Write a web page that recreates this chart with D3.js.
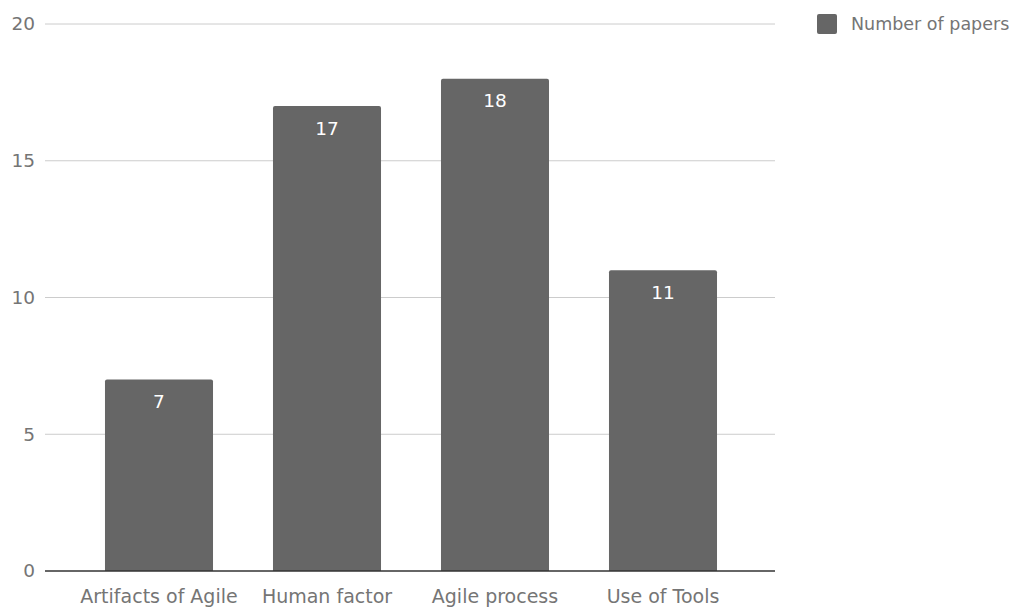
<!DOCTYPE html>
<html>
<head>
<meta charset="utf-8">
<script src="https://cdn.jsdelivr.net/npm/d3@7"></script>
<style>
  body { margin: 0; background: #fff; }
  svg text { font-family: "DejaVu Sans", Verdana, sans-serif; }
</style>
</head>
<body>
<div id="chart"></div>
<script>
const categories = ["Artifacts of Agile", "Human factor", "Agile process", "Use of Tools"]
const paperCounts = [7, 17, 18, 11]
const yTicks = [0, 5, 10, 15, 20]
const seriesName = "Number of papers"

const dimensions = {
    width: 1013,
    height: 608,
    margin: { top: 24, right: 238, bottom: 37, left: 45 },
}
dimensions.boundedWidth = dimensions.width - dimensions.margin.left - dimensions.margin.right
dimensions.boundedHeight = dimensions.height - dimensions.margin.top - dimensions.margin.bottom

const wrapper = d3.select("#chart").append("svg")
    .attr("width", dimensions.width)
    .attr("height", dimensions.height)

const bounds = wrapper.append("g")
    .attr("transform", `translate(${dimensions.margin.left},${dimensions.margin.top})`)

// scales
const yScale = d3.scaleLinear()
    .domain([0, 20])
    .range([dimensions.boundedHeight, 0])

const xScale = d3.scaleBand()
    .domain(categories)
    .range([30, 702])
    .paddingInner(0.357)
    .paddingOuter(0.1785)

// gridlines
bounds.append("g")
    .selectAll("line")
    .data(yTicks.filter(d => d > 0))
    .join("line")
    .attr("x1", 0)
    .attr("x2", dimensions.boundedWidth)
    .attr("y1", d => yScale(d))
    .attr("y2", d => yScale(d))
    .attr("stroke", "#cccccc")
    .attr("stroke-width", 1)

// y labels
bounds.append("g")
    .selectAll("text")
    .data(yTicks)
    .join("text")
    .attr("x", -10)
    .attr("y", d => yScale(d))
    .attr("dy", "0.35em")
    .attr("text-anchor", "end")
    .attr("fill", "#757575")
    .style("font-size", "18.5px")
    .text(d => d)

// bars with rounded tops
const r = 2
const barPath = (x, y, w, h) =>
    `M${x},${y + h}V${y + r}Q${x},${y} ${x + r},${y}H${x + w - r}Q${x + w},${y} ${x + w},${y + r}V${y + h}Z`

const data = categories.map((c, i) => ({ category: c, value: paperCounts[i] }))

bounds.append("g")
    .selectAll("path")
    .data(data)
    .join("path")
    .attr("fill", "#666666")
    .attr("d", d => barPath(
        xScale(d.category), yScale(d.value),
        xScale.bandwidth(), dimensions.boundedHeight - yScale(d.value)))

bounds.append("g")
    .selectAll("text")
    .data(data)
    .join("text")
    .attr("x", d => xScale(d.category) + xScale.bandwidth() / 2)
    .attr("y", d => yScale(d.value) + 22)
    .attr("dy", "0.35em")
    .attr("text-anchor", "middle")
    .attr("fill", "#ffffff")
    .style("font-size", "18.5px")
    .text(d => d.value)

// baseline
bounds.append("line")
    .attr("x1", 0)
    .attr("x2", dimensions.boundedWidth)
    .attr("y1", dimensions.boundedHeight)
    .attr("y2", dimensions.boundedHeight)
    .attr("stroke", "#333333")
    .attr("stroke-width", 1.3)

// x labels
bounds.append("g")
    .selectAll("text")
    .data(categories)
    .join("text")
    .attr("x", d => xScale(d) + xScale.bandwidth() / 2)
    .attr("y", dimensions.boundedHeight + 25)
    .attr("dy", "0.35em")
    .attr("text-anchor", "middle")
    .attr("fill", "#757575")
    .style("font-size", "19px")
    .text(d => d)

// legend
const legend = wrapper.append("g")
    .attr("transform", "translate(817,14)")
legend.append("rect")
    .attr("width", 20)
    .attr("height", 20)
    .attr("rx", 2)
    .attr("fill", "#666666")
legend.append("text")
    .attr("x", 34)
    .attr("y", 10)
    .attr("dy", "0.35em")
    .attr("fill", "#757575")
    .style("font-size", "17.5px")
    .text(seriesName)
</script>
</body>
</html>
